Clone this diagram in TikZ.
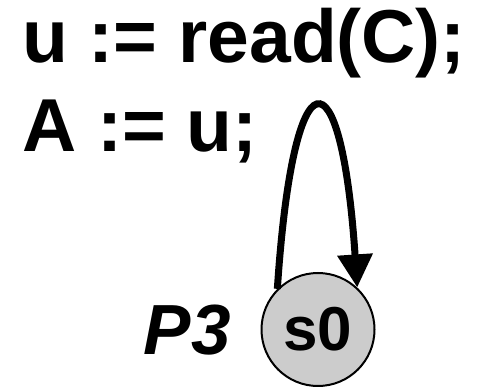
\documentclass[tikz,border=0pt]{standalone}
\usepackage{fontspec}
\setmainfont{Liberation Sans}
\usetikzlibrary{positioning,arrows.meta}
\definecolor{cGrey}{HTML}{CCCCCC}
\definecolor{cInk}{HTML}{000000}
\tikzset{
  code/.style={anchor=base west,inner sep=0pt,font=\fontsize{75}{75}\selectfont\bfseries,text=cInk},
  stnode/.style={circle,draw=cInk,line width=2pt,minimum size=113pt,inner sep=0pt,fill=cGrey,font=\fontsize{62}{62}\selectfont\bfseries},
  lbl/.style={anchor=base east,inner sep=0pt,font=\fontsize{71}{71}\selectfont\bfseries\itshape},
  selfloop/.style={-{Triangle[width=34pt,length=33pt]},line width=7pt,cInk},
}
\begin{document}
\begin{tikzpicture}[x=1pt,y=1pt]
  \useasboundingbox (0,0) rectangle (479,386);
  \node[code] (cmdread) at (22,323) {u := read(C);};
  \node[code] (cmdassign) at (22,234) {A := u;};
  \node[stnode] (s0) at (318,56.5) {s0};
  \node[lbl] (p3) at (231,32) {P3};
  \draw[selfloop] (s0.135) .. controls +(16,241) and +(-16,240) .. (s0.47);
\end{tikzpicture}
\end{document}
